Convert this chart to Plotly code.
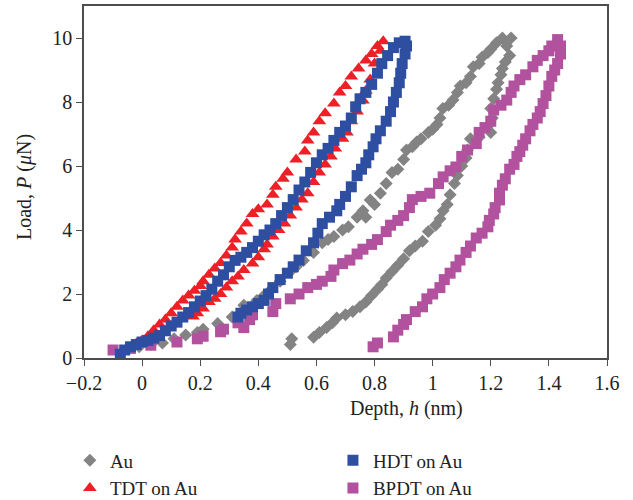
import plotly.graph_objects as go

# ---- data (depth in nm, load in uN) ----
au_h = [-0.01, 0.03, 0.07, 0.11, 0.15, 0.19, 0.21, 0.26, 0.31, 0.35, 0.37, 0.395, 0.42, 0.44, 0.475,
        0.51, 0.53, 0.555, 0.59, 0.62, 0.64, 0.66, 0.69, 0.71, 0.74, 0.76, 0.77, 0.785, 0.80, 0.82,
        0.84, 0.86, 0.88, 0.90, 0.91, 0.93, 0.945, 0.96, 0.985, 1.0, 1.015, 1.025, 1.035, 1.055, 1.07,
        1.085, 1.095, 1.115, 1.13, 1.14, 1.16, 1.17, 1.19, 1.2, 1.22, 1.24, 1.27,
        1.255, 1.265, 1.25, 1.24, 1.235, 1.225, 1.22, 1.21, 1.2, 1.205, 1.19, 1.2, 1.16, 1.13, 1.12,
        1.115, 1.10, 1.085, 1.075, 1.06, 1.05, 1.036, 1.025, 1.01, 0.985, 0.965, 0.94, 0.92, 0.9,
        0.88, 0.86, 0.84, 0.825, 0.81, 0.79, 0.77, 0.75, 0.725, 0.7, 0.67, 0.655, 0.635, 0.61, 0.59,
        0.515, 0.51]
au_p = [0.35, 0.42, 0.47, 0.6, 0.72, 0.8, 0.9, 1.08, 1.28, 1.65, 1.5, 1.8, 1.95, 2.1, 2.4,
        2.7, 2.85, 3.05, 3.3, 3.6, 3.7, 3.8, 4.0, 4.1, 4.4, 4.6, 4.4, 4.94, 4.8, 5.15,
        5.45, 5.8, 5.9, 6.2, 6.5, 6.6, 6.75, 6.85, 7.05, 7.15, 7.3, 7.5, 7.8, 7.9, 8.06,
        8.3, 8.5, 8.6, 8.8, 9.1, 9.2, 9.4, 9.55, 9.65, 9.85, 10.0, 10.0,
        9.75, 9.45, 9.25, 9.05, 8.85, 8.6, 8.4, 8.1, 7.8, 7.5, 7.25, 7.05, 6.9, 6.85, 6.5,
        6.25, 6.0, 5.7, 5.45, 5.1, 4.8, 4.6, 4.35, 4.15, 3.95, 3.65, 3.5, 3.35, 3.1,
        2.9, 2.7, 2.5, 2.3, 2.15, 1.95, 1.75, 1.6, 1.45, 1.35, 1.25, 1.1, 0.95, 0.8, 0.65,
        0.6, 0.42]

tdt_h = [-0.02, 0.0, 0.02, 0.04, 0.06, 0.08, 0.1, 0.12, 0.14, 0.16, 0.18, 0.2, 0.21, 0.23, 0.25,
         0.27, 0.29, 0.31, 0.32, 0.34, 0.36, 0.38, 0.4, 0.43, 0.45, 0.46, 0.485, 0.5, 0.53, 0.56,
         0.57, 0.59, 0.61, 0.63, 0.66, 0.68, 0.7, 0.72, 0.745, 0.77, 0.79, 0.81, 0.83,
         0.82, 0.80, 0.785, 0.77, 0.76, 0.74, 0.72, 0.705, 0.69, 0.665, 0.65, 0.63, 0.61, 0.59,
         0.57, 0.55, 0.53, 0.51, 0.49, 0.47, 0.45, 0.43, 0.42, 0.40, 0.38, 0.35, 0.33, 0.31,
         0.29, 0.27, 0.25, 0.23, 0.21, 0.19, 0.175]
tdt_p = [0.45, 0.55, 0.68, 0.87, 1.05, 1.2, 1.4, 1.6, 1.8, 1.95, 2.1, 2.25, 2.4, 2.6, 2.8,
         2.97, 3.2, 3.45, 3.7, 3.95, 4.2, 4.5, 4.65, 4.8, 5.1, 5.35, 5.6, 5.8, 6.2, 6.45,
         6.8, 7.05, 7.4, 7.65, 7.95, 8.3, 8.5, 8.8, 9.05, 9.3, 9.5, 9.75, 9.9,
         9.6, 9.2, 8.7, 8.35, 8.05, 7.7, 7.4, 7.05, 6.85, 6.55, 6.3, 6.05, 5.8, 5.5,
         5.15, 4.95, 4.7, 4.45, 4.2, 4.0, 3.8, 3.55, 3.4, 3.15, 2.95, 2.75, 2.55, 2.4,
         2.2, 2.0, 1.85, 1.75, 1.55, 1.4, 1.3]

hdt_h = [-0.075, -0.06, -0.04, -0.02, 0.0, 0.02, 0.04, 0.06, 0.08, 0.1, 0.12, 0.14, 0.16, 0.18,
         0.2, 0.22, 0.24, 0.26, 0.28, 0.3, 0.32, 0.34, 0.36, 0.38, 0.4, 0.42, 0.44, 0.46, 0.48,
         0.5, 0.52, 0.54, 0.56, 0.58, 0.6, 0.62, 0.64, 0.66, 0.68, 0.7, 0.72, 0.735, 0.75, 0.77,
         0.79, 0.81, 0.825, 0.845, 0.865, 0.885, 0.905,
         0.91, 0.905, 0.895, 0.89, 0.885, 0.875, 0.865, 0.855, 0.84, 0.82, 0.805, 0.795, 0.78,
         0.77, 0.755, 0.74, 0.72, 0.7, 0.68, 0.67, 0.645, 0.62, 0.605, 0.59, 0.565, 0.54, 0.52,
         0.5, 0.475, 0.45, 0.435, 0.42, 0.4, 0.38, 0.36, 0.34, 0.33]
hdt_p = [0.12, 0.25, 0.35, 0.42, 0.5, 0.55, 0.62, 0.7, 0.85, 1.0, 1.12, 1.28, 1.42, 1.6,
         1.78, 1.95, 2.15, 2.4, 2.6, 2.85, 3.05, 3.15, 3.3, 3.45, 3.65, 3.85, 4.0, 4.2, 4.45,
         4.7, 4.95, 5.25, 5.5, 5.8, 6.1, 6.35, 6.55, 6.8, 7.05, 7.25, 7.5, 7.85, 8.1, 8.3,
         8.55, 8.9, 9.2, 9.45, 9.7, 9.85, 9.9,
         9.75, 9.5, 9.2, 8.9, 8.6, 8.3, 8.0, 7.7, 7.4, 7.1, 6.85, 6.6, 6.35,
         6.1, 5.9, 5.7, 5.35, 5.05, 4.8, 4.6, 4.4, 4.2, 3.9, 3.6, 3.35, 3.06, 2.85,
         2.65, 2.45, 2.2, 2.0, 1.8, 1.7, 1.6, 1.5, 1.4, 1.28]

bpdt_h = [-0.1, -0.04, 0.03, 0.12, 0.19, 0.21, 0.27, 0.28, 0.33, 0.35, 0.37, 0.38, 0.45, 0.46,
          0.51, 0.54, 0.57, 0.6, 0.62, 0.65, 0.66, 0.69, 0.715, 0.74, 0.76, 0.79, 0.81, 0.84,
          0.855, 0.88, 0.9, 0.92, 0.93, 0.96, 0.99, 1.02, 1.036, 1.06, 1.08, 1.10, 1.12, 1.15,
          1.16, 1.18, 1.2, 1.21, 1.235, 1.255, 1.27, 1.28, 1.3, 1.32, 1.345, 1.36, 1.38, 1.4,
          1.41, 1.43,
          1.44, 1.44, 1.43, 1.42, 1.41, 1.40, 1.39, 1.38, 1.37, 1.36, 1.345, 1.335, 1.32, 1.31,
          1.3, 1.29, 1.28, 1.265, 1.25, 1.24, 1.23, 1.23, 1.215, 1.21, 1.195, 1.19, 1.17, 1.15,
          1.13, 1.115, 1.094, 1.08, 1.06, 1.04, 1.025, 1.0, 0.98, 0.965, 0.94, 0.91, 0.9, 0.88,
          0.865, 0.81, 0.795]
bpdt_p = [0.25, 0.3, 0.4, 0.5, 0.6, 0.68, 0.82, 0.9, 1.1, 0.95, 1.2, 1.35, 1.45, 1.7,
          1.85, 2.0, 2.2, 2.3, 2.4, 2.55, 2.75, 2.95, 3.06, 3.25, 3.4, 3.55, 3.7, 3.95,
          4.15, 4.3, 4.45, 4.7, 4.95, 5.05, 5.15, 5.45, 5.66, 5.85, 5.97, 6.3, 6.5, 6.7,
          7.05, 7.2, 7.4, 7.75, 7.9, 8.06, 8.3, 8.5, 8.7, 8.85, 9.1, 9.3, 9.45, 9.6,
          9.75, 9.95,
          9.75, 9.5, 9.2, 9.0, 8.8, 8.5, 8.2, 7.95, 7.7, 7.5, 7.3, 7.1, 6.85, 6.65,
          6.45, 6.3, 6.05, 5.9, 5.6, 5.4, 5.15, 4.94, 4.7, 4.5, 4.3, 4.1, 3.9, 3.75,
          3.5, 3.3, 3.06, 2.85, 2.65, 2.45, 2.2, 2.0, 1.85, 1.6, 1.45, 1.2, 1.05, 0.87,
          0.66, 0.47, 0.35]

series_names = ["Au", "TDT on Au", "HDT on Au", "BPDT on Au"]
x_ticks = [-0.2, 0, 0.2, 0.4, 0.6, 0.8, 1, 1.2, 1.4, 1.6]
y_ticks = [0, 2, 4, 6, 8, 10]

FONT = "Liberation Serif"
AXC = "#4d4d4d"
FS = 20

fig = go.Figure()
fig.add_trace(go.Scatter(x=au_h, y=au_p, mode="markers", name=series_names[0], legend="legend",
                         marker=dict(symbol="diamond", size=10, color="#838383")))
fig.add_trace(go.Scatter(x=tdt_h, y=tdt_p, mode="markers", name=series_names[1], legend="legend",
                         marker=dict(symbol="triangle-up", size=12, color="#ee1f26")))
fig.add_trace(go.Scatter(x=bpdt_h, y=bpdt_p, mode="markers", name=series_names[3], legend="legend2",
                         marker=dict(symbol="square", size=11, color="#b2529f")))
fig.add_trace(go.Scatter(x=hdt_h, y=hdt_p, mode="markers", name=series_names[2], legend="legend2",
                         marker=dict(symbol="square", size=11, color="#2e4ea1")))

fig.update_layout(
    width=633, height=500,
    margin=dict(l=84, r=26, t=6, b=142, autoexpand=False),
    paper_bgcolor="white", plot_bgcolor="white",
    font=dict(family=FONT, size=FS, color="#222"),
    xaxis=dict(range=[-0.2, 1.6], tickvals=x_ticks, ticks="outside", ticklen=6, tickcolor=AXC,
               showline=True, linecolor=AXC, linewidth=1.5, mirror=True, showgrid=False,
               zeroline=False, tickfont=dict(size=FS), automargin=False),
    yaxis=dict(range=[0, 11], tickvals=y_ticks, ticks="outside", ticklen=6, tickcolor=AXC,
               showline=True, linecolor=AXC, linewidth=1.5, mirror=True, showgrid=False,
               zeroline=False, tickfont=dict(size=FS), automargin=False),
    legend=dict(x=-0.027, y=-0.237, xanchor="left", yanchor="top", traceorder="normal",
                bgcolor="rgba(0,0,0,0)", font=dict(size=19), tracegroupgap=0),
    legend2=dict(x=0.476, y=-0.237, xanchor="left", yanchor="top", traceorder="reversed",
                 bgcolor="rgba(0,0,0,0)", font=dict(size=19), tracegroupgap=0),
    annotations=[
        dict(text="Depth, <i>h</i> (nm)", x=(406 - 84) / 523, y=(358 - 408) / 352,
             xanchor="center", yanchor="middle",
             xref="paper", yref="paper", showarrow=False, font=dict(size=FS)),
        dict(text="Load, <i>P</i> (<i>μ</i>N)", x=(24 - 84) / 523, y=(358 - 187) / 352,
             xanchor="center", yanchor="middle",
             xref="paper", yref="paper", showarrow=False, textangle=-90, font=dict(size=FS)),
    ],
)

fig.write_html("out.html", config={"displayModeBar": False},
               post_script="document.body.style.margin='0px';")
